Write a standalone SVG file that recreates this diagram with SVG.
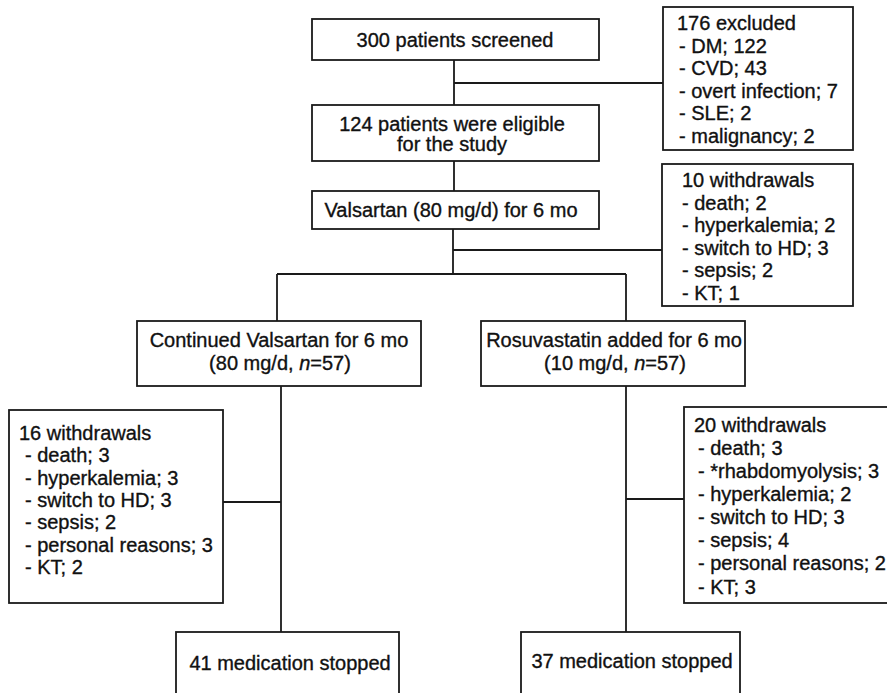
<svg xmlns="http://www.w3.org/2000/svg" width="887" height="693" viewBox="0 0 887 693">
<style>
.box{fill:#fff;stroke:#1a1a1a;stroke-width:1.8}
.ln{fill:none;stroke:#1a1a1a;stroke-width:1.8}
text{font-family:"Liberation Sans",Arial,sans-serif;font-size:20px;fill:#111;stroke:#111;stroke-width:0.35}
.c{text-anchor:middle}
</style>
<rect width="887" height="693" fill="#fff"/>
<g id="connectors">
<path class="ln" d="M454,60V105M454,83H663M454,161V191M453,229V274M453,250H662M277,274H626M277,274V321M626,274V321M281,386V632M223,502H281M626,386V632M626,499H684"/>
</g>
<g id="screened">
<rect class="box" x="312" y="19" width="287" height="41"/>
<text class="c" x="455" y="47">300 patients screened</text>
</g>
<g id="excluded">
<rect class="box" x="663" y="7" width="190" height="143"/>
<text x="677" y="30">176 excluded</text>
<text x="679" y="52.5">- DM; 122</text>
<text x="679" y="75">- CVD; 43</text>
<text x="679" y="97.5">- overt infection; 7</text>
<text x="679" y="120">- SLE; 2</text>
<text x="679" y="142.5">- malignancy; 2</text>
</g>
<g id="eligible">
<rect class="box" x="312" y="105" width="287" height="56"/>
<text class="c" x="452" y="131">124 patients were eligible</text>
<text class="c" x="452" y="151">for the study</text>
</g>
<g id="valsartan">
<rect class="box" x="312" y="191" width="287" height="38"/>
<text class="c" x="451" y="217">Valsartan (80 mg/d) for 6 mo</text>
</g>
<g id="withdrawals10">
<rect class="box" x="662" y="164" width="191" height="142"/>
<text x="682" y="187">10 withdrawals</text>
<text x="682" y="209.5">- death; 2</text>
<text x="682" y="232">- hyperkalemia; 2</text>
<text x="682" y="254.5">- switch to HD; 3</text>
<text x="682" y="277">- sepsis; 2</text>
<text x="682" y="299.5">- KT; 1</text>
</g>
<g id="continued">
<rect class="box" x="137" y="321" width="284" height="65"/>
<text class="c" x="279" y="347">Continued Valsartan for 6 mo</text>
<text class="c" x="280" y="370">(80 mg/d, <tspan font-style="italic">n</tspan>=57)</text>
</g>
<g id="rosuvastatin">
<rect class="box" x="481" y="321" width="264" height="65"/>
<text class="c" x="614" y="347">Rosuvastatin added for 6 mo</text>
<text class="c" x="615" y="370">(10 mg/d, <tspan font-style="italic">n</tspan>=57)</text>
</g>
<g id="withdrawals16">
<rect class="box" x="9" y="410" width="214" height="193"/>
<text x="19" y="440">16 withdrawals</text>
<text x="25" y="462">- death; 3</text>
<text x="25" y="484.5">- hyperkalemia; 3</text>
<text x="25" y="507">- switch to HD; 3</text>
<text x="25" y="529">- sepsis; 2</text>
<text x="25" y="551.5">- personal reasons; 3</text>
<text x="25" y="574">- KT; 2</text>
</g>
<g id="withdrawals20">
<rect class="box" x="684" y="407" width="220" height="196"/>
<text x="694" y="432">20 withdrawals</text>
<text x="698" y="455">- death; 3</text>
<text x="698" y="478">- *rhabdomyolysis; 3</text>
<text x="698" y="501">- hyperkalemia; 2</text>
<text x="698" y="524">- switch to HD; 3</text>
<text x="698" y="547">- sepsis; 4</text>
<text x="698" y="570">- personal reasons; 2</text>
<text x="698" y="594">- KT; 3</text>
</g>
<g id="stopped41">
<rect class="box" x="176" y="632" width="223" height="80"/>
<text class="c" x="290" y="670">41 medication stopped</text>
</g>
<g id="stopped37">
<rect class="box" x="521" y="632" width="219" height="80"/>
<text class="c" x="632" y="668">37 medication stopped</text>
</g>
</svg>
